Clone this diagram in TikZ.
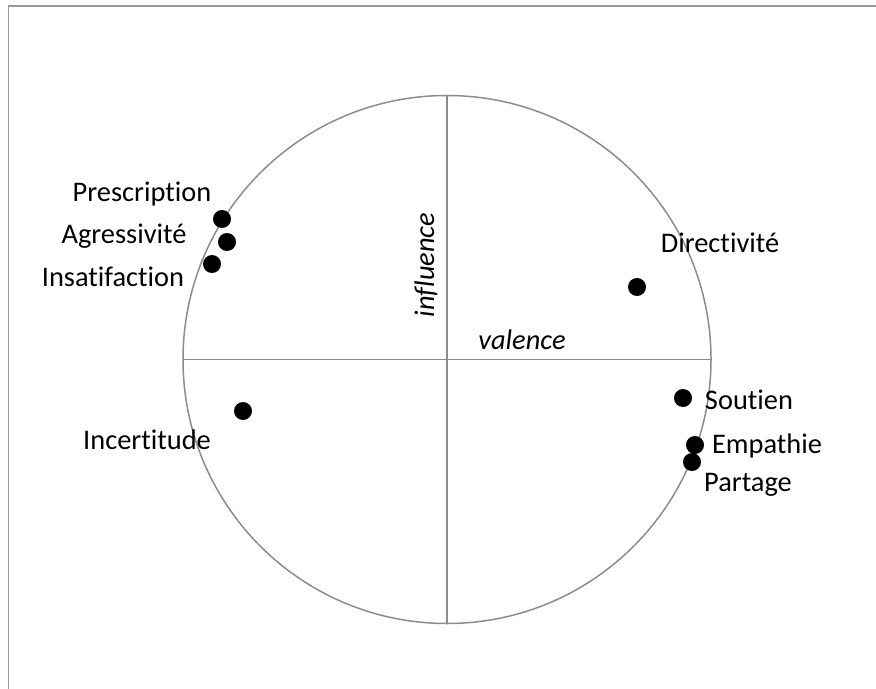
\documentclass[tikz,border=0pt]{standalone}
\usepackage{fontspec}
\setmainfont{Carlito}[Ligatures={NoCommon}]
\usetikzlibrary{positioning}

\begin{document}
\begin{tikzpicture}[
  x=0.5pt, y=-0.5pt,
  font=\fontsize{14.2}{16}\selectfont,
  cadre/.style={draw=black!40, line width=0.9pt},
  axe/.style={draw=black!45, line width=0.75pt},
  pastille/.style={circle, fill=black, inner sep=0pt, minimum size=9pt},
  etiq/.style={inner sep=0pt, anchor=center},
  dim/.style={etiq, font=\fontsize{14.2}{16}\selectfont\itshape}
]
\useasboundingbox (0,0) rectangle (876,689);

% cadre (haut et gauche seulement)
\draw[cadre] (8.5,689) -- (8.5,6) -- (876,6);

% cercle et axes
\coordinate (o) at (447,359.5);
\draw[axe] (o) circle [radius=132pt];
\draw[axe] (183,359.5) -- (711,359.5);
\draw[axe] (447,95.5) -- (447,623.5);

\node[dim, rotate=90] (infl) at (426,265) {influence};
\node[dim] (val) at (522,340) {valence};

% points
\node[pastille] (presc) at (222,219) {};
\node[pastille] (agres) at (227,242) {};
\node[pastille] (insat) at (212,264) {};
\node[pastille] (direc) at (637,287) {};
\node[pastille] (incer) at (243,411) {};
\node[pastille] (sout)  at (683,398) {};
\node[pastille] (empa)  at (695,445) {};
\node[pastille] (part)  at (692,462) {};

% libellés
\node[etiq] (lpresc) at (142,194) {Prescription};
\node[etiq] (lagres) at (124,236) {Agressivité};
\node[etiq] (linsat) at (113,277) {Insatifaction};
\node[etiq] (ldirec) at (720,243) {Directivité};
\node[etiq] (lincer) at (147,440) {Incertitude};
\node[etiq] (lsout)  at (749,400) {Soutien};
\node[etiq] (lempa)  at (767,446) {Empathie};
\node[etiq] (lpart)  at (748,485) {Partage};
\end{tikzpicture}
\end{document}
